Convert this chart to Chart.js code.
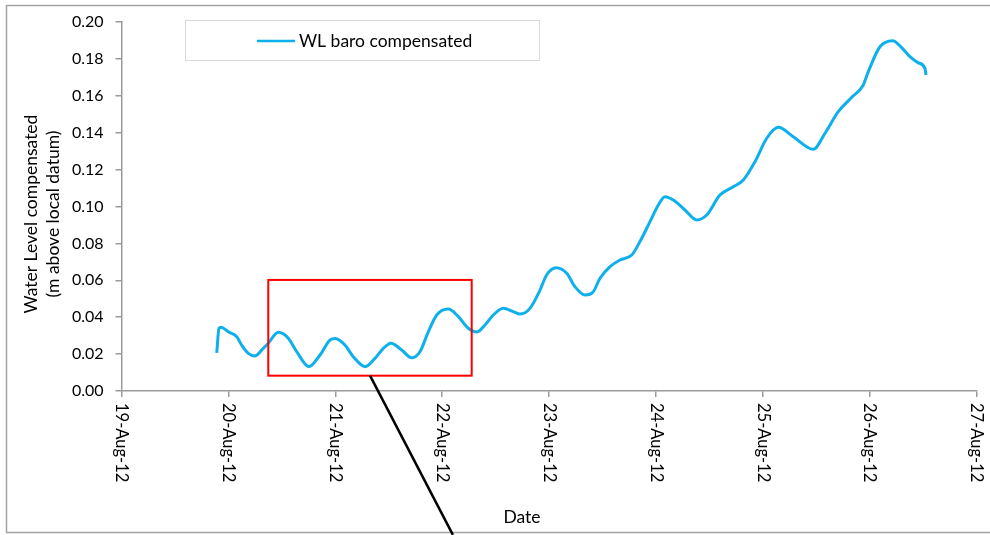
<!DOCTYPE html>
<html>
<head>
<meta charset="utf-8">
<title>Water level, baro compensated</title>
<script src="https://cdn.jsdelivr.net/npm/chart.js@4.4.0/dist/chart.umd.min.js"></script>
<style>
  html, body { margin: 0; padding: 0; background: #ffffff; }
  #wrap { width: 990px; height: 535px; position: relative; }
</style>
</head>
<body>
<div id="wrap"><canvas id="chart" width="990" height="535"></canvas></div>
<script>
// Logger record: time as fractional day of August 2012, level in metres above local datum
const seriesName = 'WL baro compensated';
const dayOfAugust = [
  19.891, 19.912, 19.931, 19.999, 20.078, 20.124, 20.186, 20.249, 20.326, 20.373,
  20.467, 20.560, 20.639, 20.754, 20.857, 20.950, 21.000, 21.090, 21.168, 21.278,
  21.371, 21.449, 21.521, 21.621, 21.715, 21.792, 21.870, 21.949, 22.057, 22.151,
  22.244, 22.326, 22.400, 22.478, 22.572, 22.665, 22.728, 22.821, 22.915, 22.977,
  23.065, 23.165, 23.242, 23.336, 23.413, 23.476, 23.570, 23.663, 23.773, 23.850,
  23.944, 24.022, 24.084, 24.162, 24.271, 24.381, 24.474, 24.598, 24.723, 24.817,
  24.926, 25.036, 25.144, 25.284, 25.472, 25.581, 25.705, 25.831, 25.939, 25.986,
  26.095, 26.214, 26.300, 26.376, 26.450, 26.516, 26.526
];
const waterLevel = [
  0.0207, 0.0340, 0.0345, 0.0321, 0.0294, 0.0249, 0.0204, 0.0190, 0.0231, 0.0259,
  0.0318, 0.0286, 0.0213, 0.0132, 0.0195, 0.0276, 0.0284, 0.0249, 0.0186, 0.0132,
  0.0177, 0.0231, 0.0259, 0.0222, 0.0180, 0.0213, 0.0321, 0.0412, 0.0444, 0.0403,
  0.0340, 0.0320, 0.0358, 0.0412, 0.0448, 0.0430, 0.0417, 0.0448, 0.0547, 0.0629,
  0.0668, 0.0638, 0.0565, 0.0520, 0.0538, 0.0611, 0.0674, 0.0710, 0.0737, 0.0810,
  0.0918, 0.1008, 0.1053, 0.1035, 0.0981, 0.0927, 0.0954, 0.1062, 0.1107, 0.1144,
  0.1243, 0.1370, 0.1429, 0.1378, 0.1310, 0.1397, 0.1514, 0.1592, 0.1659, 0.1731,
  0.1866, 0.1899, 0.1860, 0.1812, 0.1780, 0.1749, 0.1713
];
const dateTicks = [19, 20, 21, 22, 23, 24, 25, 26, 27];
const dateLabels = ['19-Aug-12', '20-Aug-12', '21-Aug-12', '22-Aug-12', '23-Aug-12',
                    '24-Aug-12', '25-Aug-12', '26-Aug-12', '27-Aug-12'];
const levelTicks = [0, 0.02, 0.04, 0.06, 0.08, 0.10, 0.12, 0.14, 0.16, 0.18, 0.20];
// Highlighted window (21-22 Aug oscillations) and its leader line
const focusDays = [20.373, 22.276];
const focusLevels = [0.0083, 0.0602];
const leaderDays = [21.325, 22.10];
const leaderLevels = [0.0083, -0.078];

const FONT = 'Lato, "Open Sans", sans-serif';
const LINE_BLUE = '#0EB0EC';
const AXIS_GREY = '#9b9b9b';

const points = dayOfAugust.map((d, i) => ({ x: d, y: waterLevel[i] }));

const decor = {
  id: 'decor',
  beforeDraw(chart) {
    const ctx = chart.ctx;
    ctx.save();
    ctx.fillStyle = '#ffffff';
    ctx.fillRect(0, 0, chart.width, chart.height);
    // outer frame of the chart
    ctx.strokeStyle = '#a3a3a3';
    ctx.lineWidth = 1.5;
    ctx.beginPath();
    ctx.moveTo(995, 5.5);
    ctx.lineTo(6.5, 5.5);
    ctx.lineTo(6.5, 532.5);
    ctx.lineTo(995, 532.5);
    ctx.stroke();
    ctx.restore();
  },
  afterDatasetsDraw(chart) {
    const ctx = chart.ctx;
    const xs = chart.scales.x, ys = chart.scales.y;
    ctx.save();
    // red box around the highlighted window
    const x0 = xs.getPixelForValue(focusDays[0]);
    const x1 = xs.getPixelForValue(focusDays[1]);
    const y0 = ys.getPixelForValue(focusLevels[1]);
    const y1 = ys.getPixelForValue(focusLevels[0]);
    ctx.strokeStyle = '#ff0000';
    ctx.lineWidth = 2;
    ctx.strokeRect(x0, y0, x1 - x0, y1 - y0);
    // black leader line running off the bottom
    ctx.strokeStyle = '#000000';
    ctx.lineWidth = 2.5;
    ctx.beginPath();
    ctx.moveTo(xs.getPixelForValue(leaderDays[0]), ys.getPixelForValue(leaderLevels[0]));
    ctx.lineTo(xs.getPixelForValue(leaderDays[1]), ys.getPixelForValue(leaderLevels[1]));
    ctx.stroke();
    ctx.restore();
  },
  afterDraw(chart) {
    const ctx = chart.ctx;
    const xs = chart.scales.x;
    ctx.save();
    ctx.fillStyle = '#000000';
    // date labels, rotated to read downwards
    ctx.font = '16.5px ' + FONT;
    ctx.textAlign = 'left';
    ctx.textBaseline = 'middle';
    dateTicks.forEach((d, i) => {
      const px = xs.getPixelForValue(d);
      ctx.save();
      ctx.translate(px, 403);
      ctx.rotate(Math.PI / 2);
      ctx.fillText(dateLabels[i], 0, 0);
      ctx.restore();
    });
    // axis titles
    ctx.font = '17.5px ' + FONT;
    ctx.textAlign = 'center';
    ctx.fillText('Date', 522, 517);
    ctx.save();
    ctx.translate(31, 214);
    ctx.rotate(-Math.PI / 2);
    ctx.fillText('Water Level compensated', 0, 0);
    ctx.fillText('(m above local datum)', 0, 22);
    ctx.restore();
    // legend box
    ctx.strokeStyle = '#d9d9d9';
    ctx.lineWidth = 1;
    ctx.strokeRect(185.5, 20.5, 354, 40);
    ctx.strokeStyle = LINE_BLUE;
    ctx.lineWidth = 2.5;
    ctx.beginPath();
    ctx.moveTo(257, 41);
    ctx.lineTo(295, 41);
    ctx.stroke();
    ctx.textAlign = 'left';
    ctx.fillText(seriesName, 299, 41);
    ctx.restore();
  }
};

new Chart(document.getElementById('chart'), {
  type: 'line',
  data: {
    datasets: [{
      label: seriesName,
      data: points,
      borderColor: LINE_BLUE,
      borderWidth: 3,
      pointRadius: 0,
      cubicInterpolationMode: 'monotone',
      fill: false
    }]
  },
  options: {
    responsive: false,
    animation: false,
    devicePixelRatio: 1,
    layout: { padding: { top: 22, right: 13.3, bottom: 0, left: 0 } },
    plugins: { legend: { display: false }, tooltip: { enabled: false } },
    scales: {
      x: {
        type: 'linear',
        min: 19,
        max: 27,
        afterBuildTicks(scale) { scale.ticks = dateTicks.map(v => ({ value: v })); },
        afterFit(scale) { scale.height = 144; },
        ticks: { display: false },
        grid: { drawOnChartArea: false, drawTicks: true, tickLength: 6, color: AXIS_GREY, lineWidth: 1.5 },
        border: { display: true, color: AXIS_GREY, width: 1.5 }
      },
      y: {
        min: 0,
        max: 0.2,
        afterBuildTicks(scale) { scale.ticks = levelTicks.map(v => ({ value: v })); },
        afterFit(scale) { scale.width = 121.5; },
        ticks: {
          padding: 12,
          color: '#000000',
          font: { family: FONT, size: 16 },
          callback: v => Number(v).toFixed(2)
        },
        grid: { drawOnChartArea: false, drawTicks: true, tickLength: 6, color: AXIS_GREY, lineWidth: 1.5 },
        border: { display: true, color: AXIS_GREY, width: 1.5 }
      }
    }
  },
  plugins: [decor]
});
</script>
</body>
</html>
